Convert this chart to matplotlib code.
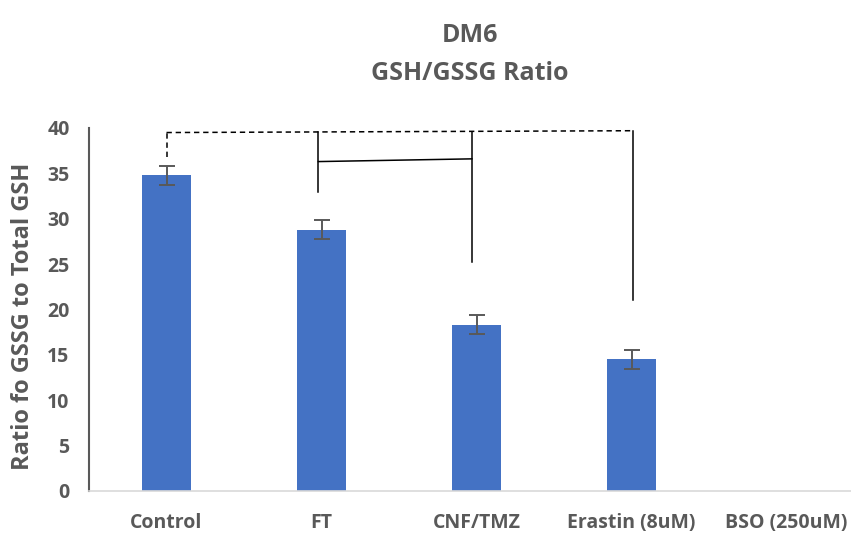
import matplotlib
matplotlib.use("Agg")
import matplotlib.pyplot as plt

plt.rcParams['font.family'] = ['Open Sans', 'DejaVu Sans']

groups = ["Control", "FT", "CNF/TMZ", "Erastin (8uM)", "BSO (250uM)"]
ratio = [34.8, 28.8, 18.3, 14.5, 0]
err = [1.05, 1.05, 1.05, 1.05, 0]

# comparison brackets: (x0, y0, x1, y1, dashed) in data units
brackets = [
    (0.0, 36.85, 0.0, 39.5, True),
    (0.0, 39.5, 3.01, 39.7, True),
    (0.98, 32.9, 0.98, 39.55, False),
    (0.98, 36.3, 1.97, 36.6, False),
    (1.97, 25.2, 1.97, 39.6, False),
    (3.01, 21.05, 3.01, 39.7, False),
]

grey = "#595959"

fig = plt.figure(figsize=(8.51, 5.39), dpi=100)
ax = fig.add_axes([89 / 851, 1 - 491 / 539, 775 / 851, 363 / 539])

x = list(range(len(groups)))
ax.bar(x, ratio, width=0.31, color="#4472C4", zorder=2)
ax.errorbar(x[:4], ratio[:4], yerr=err[:4], fmt="none", ecolor=grey,
            elinewidth=1.4, capsize=6, capthick=1.4, zorder=3)

for x0, y0, x1, y1, dashed in brackets:
    ax.plot([x0, x1], [y0, y1], color="black", lw=1.1,
            ls=(0, (3.5, 2.5)) if dashed else "-", zorder=4, clip_on=False)

ax.set_xlim(-0.5, 4.5)
ax.set_ylim(0, 40)
ax.set_yticks(range(0, 41, 5))
ax.set_xticks(x)
ax.set_xticklabels(groups, fontsize=14, color=grey, fontweight="bold")
for lab in ax.get_yticklabels():
    lab.set_fontsize(14)
    lab.set_fontweight("bold")
    lab.set_color(grey)
ax.tick_params(axis="both", length=0)
ax.tick_params(axis="y", pad=14)
ax.tick_params(axis="x", pad=16)

for s in ["top", "right"]:
    ax.spines[s].set_visible(False)
ax.spines["left"].set_color(grey)
ax.spines["left"].set_linewidth(1.5)
ax.spines["bottom"].set_color("#d9d9d9")
ax.spines["bottom"].set_linewidth(1.2)

ax.set_ylabel("Ratio fo GSSG to Total GSH", fontsize=17, fontweight="bold",
              color=grey)
ax.yaxis.set_label_coords(-54 / 775, 0.48)

fig.text(470 / 851, 1 - 35 / 539, "DM6", ha="center", va="center",
         fontsize=18, fontweight="bold", color=grey)
fig.text(470 / 851, 1 - 73 / 539, "GSH/GSSG Ratio", ha="center", va="center",
         fontsize=18, fontweight="bold", color=grey)

fig.savefig("out.png", dpi=100)
